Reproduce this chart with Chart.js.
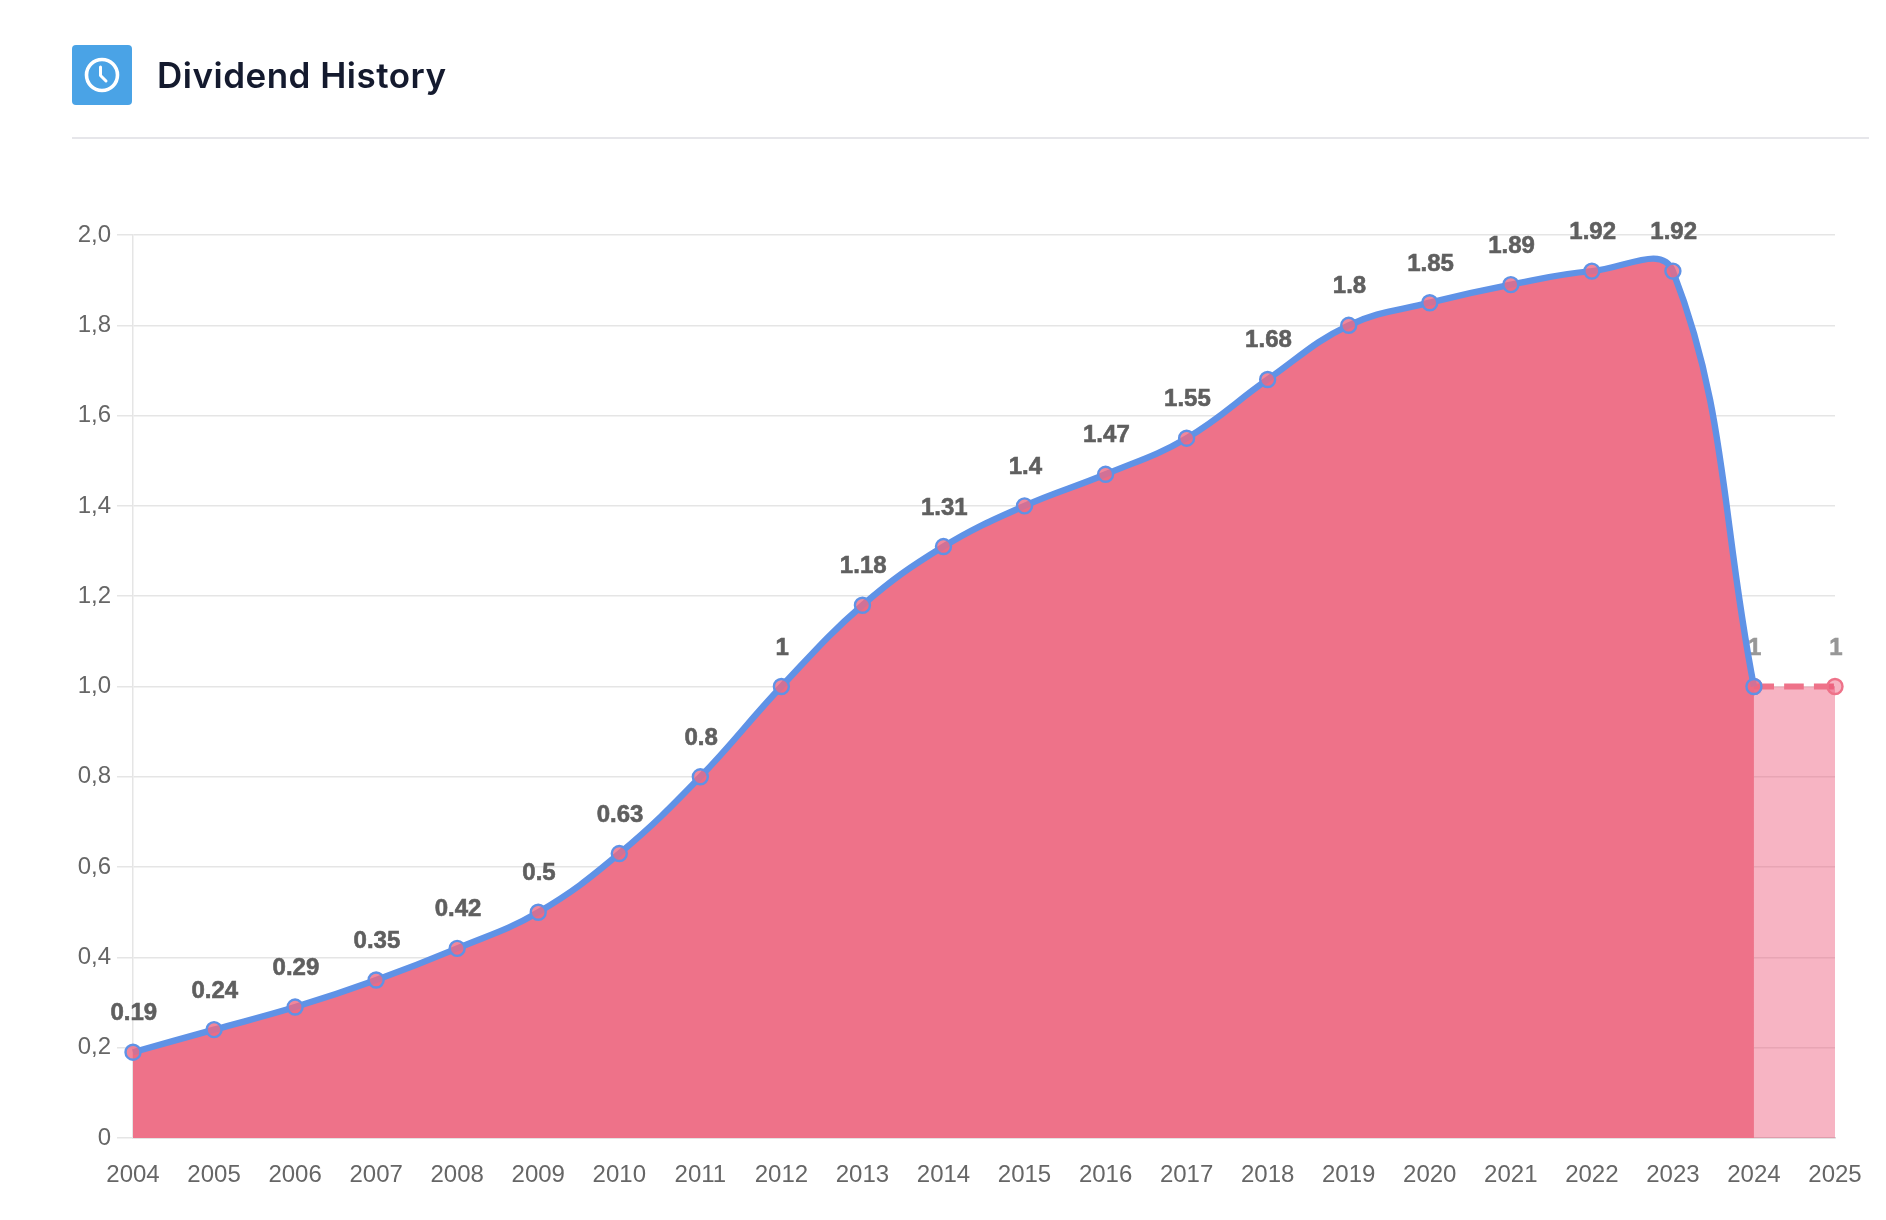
<!DOCTYPE html>
<html>
<head>
<meta charset="utf-8">
<title>Dividend History</title>
<script src="https://cdn.jsdelivr.net/npm/chart.js@4"></script>
<style>
  html, body { margin: 0; padding: 0; background: #fff; width: 1886px; height: 1220px; overflow: hidden; }
  #sensorWrap { position: absolute; left: 0; top: 0; width: 1886px; height: 1220px; }
  #icon { position: absolute; left: 72px; top: 45px; width: 60px; height: 60px; background: #4aa3e6; border-radius: 4px; }
  #icon svg { position: absolute; left: 0; top: 0; }
  #title { position: absolute; left: 157px; top: 52px; font: 600 35px Inter, sans-serif; color: #141a2e; letter-spacing: 0.5px; line-height: 46px; }
  #divider { position: absolute; left: 72px; right: 17px; top: 137px; height: 2px; background: #e6e6ea; }
</style>
</head>
<body>
<div id="sensorWrap"><canvas id="dividendChart" width="1886" height="1220"></canvas></div>
<div id="icon">
  <svg width="60" height="60" viewBox="0 0 60 60">
    <circle cx="30" cy="30" r="15.5" fill="none" stroke="#fff" stroke-width="3.6"/>
    <path d="M28.5 22 V30.5 L34 36" fill="none" stroke="#fff" stroke-width="3" stroke-linecap="round" stroke-linejoin="round"/>
  </svg>
</div>
<div id="title">Dividend History</div>
<div id="divider"></div>
<script>
const years = ['2004','2005','2006','2007','2008','2009','2010','2011','2012','2013','2014','2015','2016','2017','2018','2019','2020','2021','2022','2023','2024','2025'];
const paidValues = [0.19,0.24,0.29,0.35,0.42,0.5,0.63,0.8,1,1.18,1.31,1.4,1.47,1.55,1.68,1.8,1.85,1.89,1.92,1.92,1,null];
const forecastValues = [null,null,null,null,null,null,null,null,null,null,null,null,null,null,null,null,null,null,null,null,1,1];
const yTickLabels = ['0','0,2','0,4','0,6','0,8','1,0','1,2','1,4','1,6','1,8','2,0'];

// Value labels above the points, drawn under the datasets like in the original
const valueLabels = {
  id: 'valueLabels',
  beforeDatasetsDraw(chart) {
    const c = chart.ctx;
    c.save();
    c.font = 'bold 24px "Liberation Sans", Arial, sans-serif';
    c.textAlign = 'center';
    c.textBaseline = 'alphabetic';
    c.lineWidth = 0.6;
    const put = (text, pt, color) => {
      c.fillStyle = c.strokeStyle = color;
      c.fillText(text, pt.x + 0.8, pt.y - 32);
      c.strokeText(text, pt.x + 0.8, pt.y - 32);
    };
    chart.getDatasetMeta(0).data.forEach((pt, i) => {
      if (paidValues[i] === null) return;
      put(String(paidValues[i]), pt, i === 20 ? '#979797' : '#5f5f5f');
    });
    put(String(forecastValues[21]), chart.getDatasetMeta(1).data[21], '#979797');
    c.restore();
  }
};

const chart = new Chart(document.getElementById('dividendChart').getContext('2d'), {
  type: 'line',
  data: {
    labels: years,
    datasets: [
      {
        data: paidValues,
        borderColor: '#5f92e6',
        backgroundColor: '#ee7289',
        borderWidth: 6.4,
        tension: 0.4,
        fill: 'origin',
        pointRadius: 7.5,
        pointBorderWidth: 2.4,
        pointBorderColor: '#5f92e6',
        pointBackgroundColor: 'rgba(238,105,130,0.8)'
      },
      {
        data: forecastValues,
        borderColor: '#ee7289',
        backgroundColor: 'rgba(236,76,112,0.42)',
        borderWidth: 6,
        borderDash: [20, 10],
        tension: 0.4,
        fill: 'origin',
        pointRadius: 7.5,
        pointBorderWidth: 2.4,
        pointBorderColor: '#ee7289',
        pointBackgroundColor: 'rgba(236,76,112,0.42)'
      }
    ]
  },
  options: {
    responsive: false,
    animation: false,
    layout: { padding: { left: 0, right: 51, top: 235, bottom: 0 } },
    plugins: { legend: { display: false }, tooltip: { enabled: false } },
    scales: {
      x: {
        offset: false,
        grid: { display: false },
        border: { display: true, color: '#d6d6d6', width: 1.5 },
        ticks: { color: '#666', font: { family: '"Liberation Sans", Arial, sans-serif', size: 24 }, maxRotation: 0, autoSkip: false, padding: 15 },
        afterFit(scale) { scale.height = 82; }
      },
      y: {
        min: 0,
        max: 2,
        grid: { color: '#e5e5e5', lineWidth: 1.5, tickLength: 16 },
        border: { display: true, color: '#e5e5e5', width: 1.5 },
        ticks: {
          stepSize: 0.2,
          color: '#666',
          padding: 6,
          font: { family: '"Liberation Sans", Arial, sans-serif', size: 24 },
          callback: (v, i) => yTickLabels[i]
        },
        afterFit(scale) { scale.width = 133; }
      }
    }
  },
  plugins: [valueLabels]
});
</script>
</body>
</html>
